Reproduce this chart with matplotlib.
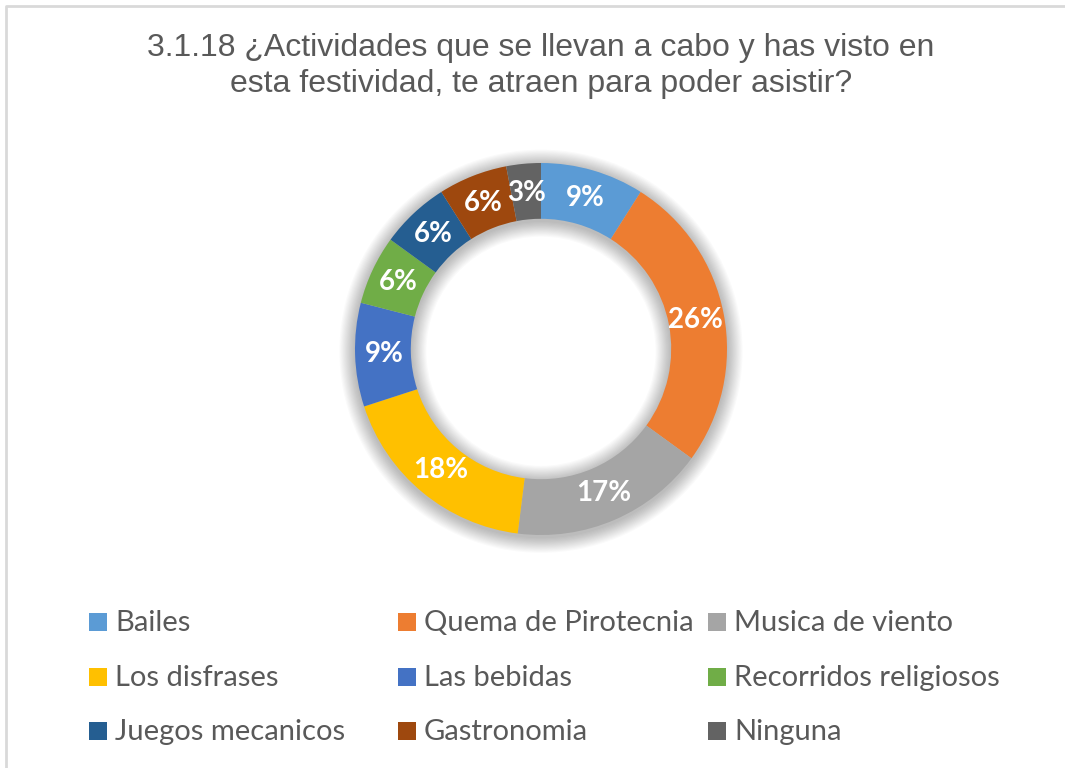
import matplotlib
matplotlib.use("Agg")
import matplotlib.pyplot as plt
from matplotlib.patches import Rectangle, Wedge
import numpy as np

categories = ["Bailes", "Quema de Pirotecnia", "Musica de viento",
              "Los disfrases", "Las bebidas", "Recorridos religiosos",
              "Juegos mecanicos", "Gastronomia", "Ninguna"]
values = [9, 26, 17, 18, 9, 6, 6, 6, 3]
colors = ["#5B9BD5", "#ED7D31", "#A5A5A5", "#FFC000", "#4472C4",
          "#70AD47", "#255E91", "#9E480E", "#636363"]
title = "3.1.18 ¿Actividades que se llevan a cabo y has visto en\nesta festividad, te atraen para poder asistir?"

W, H = 1065, 768
plt.rcParams['hatch.linewidth'] = 1.8
plt.rcParams['hatch.color'] = '#ebebeb'
fig = plt.figure(figsize=(W / 100, H / 100), dpi=100)
fig.patch.set_facecolor("white")

# patterned background
bg = fig.add_axes([0, 0, 1, 1])
bg.set_xlim(0, W); bg.set_ylim(H, 0); bg.axis("off")
bg.add_patch(Rectangle((0, 0), W, H, facecolor="white", edgecolor="none",
                       hatch="\\\\\\", linewidth=0))
# chart border (top and left visible)
bg.plot([6, 6, W], [H, 6, 6], color="#d9d9d9", lw=2, solid_capstyle="butt")
# legend background
bg.add_patch(Rectangle((78, 595), 925, 160, facecolor="white", alpha=0.75,
                       edgecolor="none"))

# title
bg.text(541, 66, title, ha="center", va="center", fontsize=23,
        family="Liberation Sans", color="#595959", linespacing=1.25)

# donut
cx, cy, R = 541, 349, 186
span = 1.2
ax = fig.add_axes([(cx - R * span) / W, (H - cy - R * span) / H,
                   2 * R * span / W, 2 * R * span / H])
ax.axis("off")

ring = 0.30
# soft shadow
n = 14
for k in range(n):
    d = 0.006 * (k + 1)
    ax.add_patch(Wedge((0.0, -0.012), 1 + d, 0, 360, width=ring + 2 * d,
                       facecolor="black", edgecolor="none", alpha=0.02))

wedges, _ = ax.pie(values, colors=colors, startangle=90, counterclock=False,
                   radius=1.0, wedgeprops=dict(width=ring, edgecolor="none"))
ax.set_xlim(-span, span); ax.set_ylim(-span, span)
ax.set_aspect("equal")

total = sum(values)
cum = 0
for v, w in zip(values, wedges):
    mid = np.deg2rad(90 - (cum + v / 2) / total * 360)
    cum += v
    ax.text(0.845 * np.cos(mid), 0.845 * np.sin(mid), f"{v}%", ha="center",
            va="center", fontsize=20, fontweight="bold", family="Lato",
            color="white")

# legend (row-major, 3 columns)
col_x = [89, 398, 708]
row_y = [622, 677, 731]
for i, (name, c) in enumerate(zip(categories, colors)):
    r, col = divmod(i, 3)
    x, y = col_x[col], row_y[r]
    bg.add_patch(Rectangle((x, y - 9), 18, 18, facecolor=c, edgecolor="none"))
    bg.text(x + 26, y + 1, name, ha="left", va="center", fontsize=21,
            family="Lato", color="#595959")

fig.savefig("out.png", dpi=100)
